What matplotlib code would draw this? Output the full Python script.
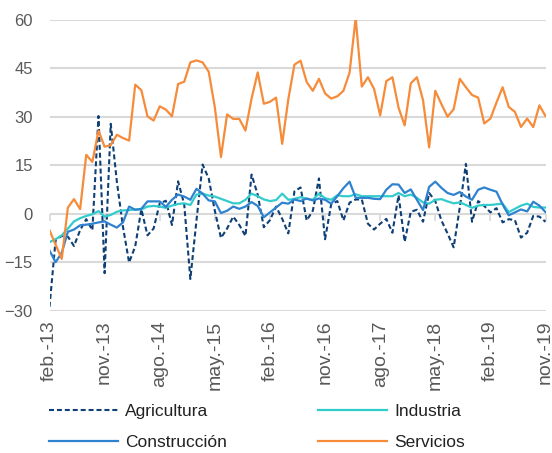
import matplotlib
matplotlib.use("Agg")
import matplotlib.pyplot as plt
import numpy as np

plt.rcParams['font.family'] = ['Liberation Sans', 'DejaVu Sans']

# Monthly balance indicators, feb-2013 .. nov-2019 (82 months)
agricultura = [-28.7, -8, -6.8, -7, -9.9, -5, -1.6, -5, 30.3, -18.3,
               27.9, 10, -4, -15, -10, 1.5, -6.6, -4.5, 3.3, 4.1,
               -3.4, 10.1, 3, -20.1, -2, 15.3, 11, 1, -7.4, -4.5,
               -0.8, -3.4, -6.8, 12.2, 6, -4.1, -1.9, 2.3, -1.5, -6,
               7, 8.2, -2, 1, 11, -7.8, 3, 4, -2, 3.5,
               4.5, 4.5, -3, -4.8, -3, -1.5, -5.8, 5.8, -8.6, 0.7,
               1.3, -2.4, 6.5, 4, -2, -6, -10.3, 2, 15.5, -2.4,
               4, 2.5, 0.5, 1.8, -2.6, -1.6, -1.9, -7.3, -5.8, -0.6,
               -0.8, -2.4]
industria = [-8.7, -7.8, -6.6, -4.5, -2.3, -1.3, -0.6, -0.1, 0.9, -0.8,
             -0.3, 0.7, 1.1, 1.2, 1.4, 1.4, 2.3, 2.5, 2.3, 1.9,
             2.6, 3.1, 3.3, 2.8, 6, 6.3, 5.7, 5.4, 4.7, 4,
             3.3, 3.3, 4.4, 6.3, 5.5, 4.5, 4, 4.3, 6.3, 4.4,
             4.7, 5.2, 4.7, 4.4, 6.3, 4.9, 4.4, 5.8, 5.5, 5.5,
             6.1, 5.5, 5.5, 5.5, 5.5, 5.5, 5.5, 6.5, 5.5, 6,
             5, 3.6, 3.2, 4.4, 4.6, 3.9, 3.3, 3.6, 2.8, 1.9,
             2.6, 2.8, 2.8, 3, 3.2, 0.6, 1.6, 2.6, 3.2, 2.2,
             2, 2]
construccion = [-11.3, -14.9, -12, -5.5, -4.8, -3.5, -3.3, -3, -2.6, -2.3,
                -3.3, -4.2, -2.6, 2.3, 1.3, 1.6, 3.9, 3.9, 3.9, 2.2,
                4.4, 6, 5.4, 4.4, 7.8, 6.3, 4.2, 3.9, 0.3, 1,
                2.3, 1.6, 2.3, 3.7, 2.5, -1, 0.5, 2, 3.5, 3.2,
                4.5, 4, 4.8, 4.2, 4.8, 4.4, 3.2, 5.5, 8, 10,
                5, 5, 5, 4.7, 4.6, 7.5, 9.2, 9.1, 6.5, 7.6,
                4.4, 1.2, 8.4, 10, 8.1, 6.5, 5.9, 6.8, 5.4, 4.4,
                7.5, 8.2, 7.5, 6.9, 2.9, -0.4, 0.5, 1.4, 0.8, 3.8,
                2.6, 0.6]
servicios = [-5, -9.5, -13.9, 2, 4.6, 1.5, 18.3, 16.1, 25.8, 20.8,
             21.3, 24.5, 23.5, 22.7, 40, 38.3, 30.2, 28.9, 33.3, 32.3,
             30.2, 40.2, 40.9, 46.9, 47.5, 46.9, 44, 33, 17.6, 30.8,
             29.4, 29.4, 25.8, 35.7, 43.8, 34.1, 34.7, 36, 21.7, 35.5,
             46.2, 47.4, 40.8, 38.1, 41.8, 37.3, 35.7, 36.4, 38.1, 43.7,
             60.6, 39.4, 42.3, 38.7, 30.5, 41.1, 42.3, 32.9, 27.4, 40.4,
             42.3, 35.2, 20.6, 38.1, 34, 30.1, 32.4, 41.8, 39.2, 36.8,
             36, 28, 29.5, 34.5, 39.2, 33.1, 31.6, 26.9, 29.5, 26.9,
             33.6, 30.3]

tick_labels = ["feb.-13", "nov.-13", "ago.-14", "may.-15", "feb.-16",
               "nov.-16", "ago.-17", "may.-18", "feb.-19", "nov.-19"]
y_ticks = [-30, -15, 0, 15, 30, 45, 60]

COLOR_AGR = "#0E3F75"
COLOR_IND = "#33CCCC"
COLOR_CON = "#2F82D0"
COLOR_SER = "#F68B3A"
GRID = "#D9D9D9"
TEXT = "#595959"

x = np.arange(len(servicios))
tick_pos = x[::9]

fig = plt.figure(figsize=(5.52, 4.53), dpi=100)
ax = fig.add_axes([49.5 / 552, 1 - 311 / 453, 496 / 552, 291 / 453])

ax.plot(x, agricultura, color=COLOR_AGR, lw=1.5, ls=(0, (2.4, 1.4)), label="Agricultura")
ax.plot(x, industria, color=COLOR_IND, lw=1.6, label="Industria")
ax.plot(x, construccion, color=COLOR_CON, lw=1.6, label="Construcción")
ax.plot(x, servicios, color=COLOR_SER, lw=1.6, label="Servicios")

ax.set_xlim(0, len(servicios) - 1)
ax.set_ylim(-30, 60)
ax.set_yticks(y_ticks)
ax.yaxis.grid(True, color=GRID, lw=1.5)
ax.set_axisbelow(True)
for s in ax.spines.values():
    s.set_visible(False)

ax.set_xticks(tick_pos)
ax.set_xticklabels(tick_labels, rotation=90, fontsize=14, color=TEXT)
ax.tick_params(axis="x", length=0, pad=7)
ax.tick_params(axis="y", length=0, pad=12, labelsize=12, labelcolor=TEXT)

# category axis crossing at zero, with small tick marks
sec = ax.secondary_xaxis(30 / 90)
sec.set_xticks(tick_pos)
sec.tick_params(axis="x", length=5, color=GRID, width=1.2, labelbottom=False, labeltop=False,
                direction="out")
sec.spines["bottom"].set_visible(False)
sec.spines["top"].set_color(GRID)
sec.spines["top"].set_linewidth(1.5)

handles, labels = ax.get_legend_handles_labels()
order = [0, 2, 1, 3]
fig.legend([handles[i] for i in order], [labels[i] for i in order],
           loc="upper left", bbox_to_anchor=(49 / 552, 1 - 404 / 453),
           ncol=2, frameon=False, fontsize=12.5, handlelength=4.0, handletextpad=0.4,
           columnspacing=5.2, labelspacing=0.9, borderpad=0, borderaxespad=0,
           labelcolor="#222222")

fig.savefig("out.png", dpi=100)
